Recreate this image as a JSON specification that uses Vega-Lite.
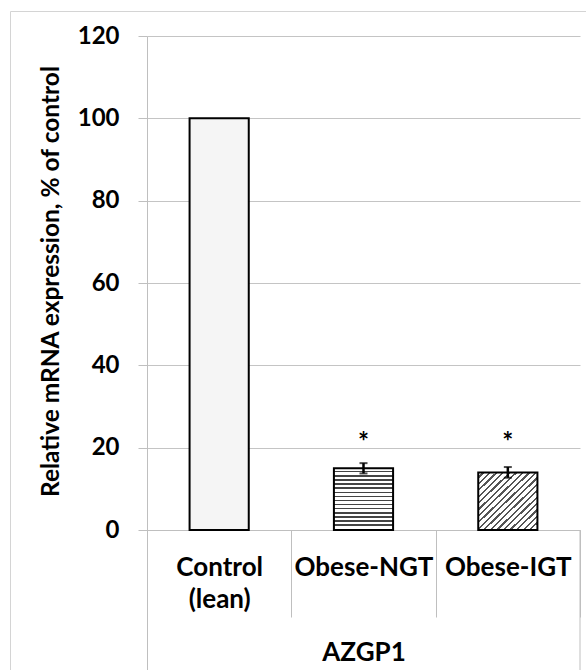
{
  "$schema": "https://vega.github.io/schema/vega-lite/v6.json",
  "width": 433,
  "height": 634,
  "autosize": "none",
  "padding": {"left": 147, "top": 36, "right": 6, "bottom": 0},
  "background": "white",
  "config": {"view": {"stroke": null}, "font": "Lato"},
  "layer": [
    {
      "data": {"values": [
        {"group": "Control (lean)", "value": 100, "err": 0, "sig": ""},
        {"group": "Obese-NGT", "value": 15.0, "err": 1.25, "sig": "*"},
        {"group": "Obese-IGT", "value": 14.0, "err": 1.3, "sig": "*"}
      ]},
      "encoding": {
        "x": {
          "field": "group", "type": "nominal", "sort": null,
          "scale": {"paddingInner": 0, "paddingOuter": 0},
          "axis": {
            "orient": "bottom", "offset": -140,
            "domainColor": "#bfbfbf", "domainWidth": 1,
            "ticks": true, "tickBand": "extent", "tickSize": 87, "tickColor": "#bfbfbf", "tickWidth": 1,
            "labelAngle": 0, "labelFont": "Lato", "labelFontSize": 26, "labelFontWeight": "bold", "labelColor": "black",
            "labelBaseline": "alphabetic", "labelPadding": -42, "labelLineHeight": 32,
            "labelExpr": "datum.value === 'Control (lean)' ? ['Control', '(lean)'] : datum.label",
            "title": "AZGP1", "titleFont": "Lato", "titleFontSize": 26, "titleFontWeight": "bold", "titleColor": "black",
            "titleBaseline": "alphabetic", "titleY": 130
          }
        }
      },
      "layer": [
        {
          "mark": {"type": "bar", "width": {"band": 0.41}, "stroke": "black", "strokeWidth": 2},
          "encoding": {
            "y": {
              "field": "value", "type": "quantitative",
              "scale": {"domain": [-34, 120], "nice": false},
              "axis": {
                "values": [0, 20, 40, 60, 80, 100, 120],
                "grid": true, "gridColor": "#c4c4c4", "gridWidth": 1,
                "domainColor": "#bfbfbf", "tickColor": "#bfbfbf", "tickSize": 9,
                "labelFont": "Lato", "labelFontSize": 24, "labelFontWeight": "bold", "labelColor": "black", "labelPadding": 19,
                "title": "Relative mRNA expression, % of control",
                "titleFont": "Lato", "titleFontSize": 24.5, "titleFontWeight": "bold", "titleColor": "black",
                "titleBaseline": "alphabetic", "titleX": -89, "titleY": 245
              }
            },
            "fill": {
              "condition": [
                {"test": "datum.group === 'Obese-NGT'", "value": {
                  "gradient": "linear", "x1": 0, "y1": 0, "x2": 0, "y2": 1,
                  "stops": [
                    {"offset": 0, "color": "#ffffff"}, {"offset": 0.0433, "color": "#ffffff"}, {"offset": 0.0433, "color": "#444444"}, {"offset": 0.0667, "color": "#444444"},
                    {"offset": 0.0667, "color": "#ffffff"}, {"offset": 0.11, "color": "#ffffff"}, {"offset": 0.11, "color": "#444444"}, {"offset": 0.1333, "color": "#444444"},
                    {"offset": 0.1333, "color": "#ffffff"}, {"offset": 0.1767, "color": "#ffffff"}, {"offset": 0.1767, "color": "#444444"}, {"offset": 0.2, "color": "#444444"},
                    {"offset": 0.2, "color": "#ffffff"}, {"offset": 0.2433, "color": "#ffffff"}, {"offset": 0.2433, "color": "#444444"}, {"offset": 0.2667, "color": "#444444"},
                    {"offset": 0.2667, "color": "#ffffff"}, {"offset": 0.31, "color": "#ffffff"}, {"offset": 0.31, "color": "#444444"}, {"offset": 0.3333, "color": "#444444"},
                    {"offset": 0.3333, "color": "#ffffff"}, {"offset": 0.3767, "color": "#ffffff"}, {"offset": 0.3767, "color": "#444444"}, {"offset": 0.4, "color": "#444444"},
                    {"offset": 0.4, "color": "#ffffff"}, {"offset": 0.4433, "color": "#ffffff"}, {"offset": 0.4433, "color": "#444444"}, {"offset": 0.4667, "color": "#444444"},
                    {"offset": 0.4667, "color": "#ffffff"}, {"offset": 0.51, "color": "#ffffff"}, {"offset": 0.51, "color": "#444444"}, {"offset": 0.5333, "color": "#444444"},
                    {"offset": 0.5333, "color": "#ffffff"}, {"offset": 0.5767, "color": "#ffffff"}, {"offset": 0.5767, "color": "#444444"}, {"offset": 0.6, "color": "#444444"},
                    {"offset": 0.6, "color": "#ffffff"}, {"offset": 0.6433, "color": "#ffffff"}, {"offset": 0.6433, "color": "#444444"}, {"offset": 0.6667, "color": "#444444"},
                    {"offset": 0.6667, "color": "#ffffff"}, {"offset": 0.71, "color": "#ffffff"}, {"offset": 0.71, "color": "#444444"}, {"offset": 0.7333, "color": "#444444"},
                    {"offset": 0.7333, "color": "#ffffff"}, {"offset": 0.7767, "color": "#ffffff"}, {"offset": 0.7767, "color": "#444444"}, {"offset": 0.8, "color": "#444444"},
                    {"offset": 0.8, "color": "#ffffff"}, {"offset": 0.8433, "color": "#ffffff"}, {"offset": 0.8433, "color": "#444444"}, {"offset": 0.8667, "color": "#444444"},
                    {"offset": 0.8667, "color": "#ffffff"}, {"offset": 0.91, "color": "#ffffff"}, {"offset": 0.91, "color": "#444444"}, {"offset": 0.9333, "color": "#444444"},
                    {"offset": 0.9333, "color": "#ffffff"}, {"offset": 0.9767, "color": "#ffffff"}, {"offset": 0.9767, "color": "#444444"}, {"offset": 1, "color": "#444444"}
                  ]}},
                {"test": "datum.group === 'Obese-IGT'", "value": {
                  "gradient": "linear", "x1": 0, "y1": 0, "x2": 1, "y2": 1,
                  "stops": [
                    {"offset": 0, "color": "#ffffff"}, {"offset": 0.0361, "color": "#ffffff"}, {"offset": 0.0361, "color": "#555555"}, {"offset": 0.0556, "color": "#555555"},
                    {"offset": 0.0556, "color": "#ffffff"}, {"offset": 0.0917, "color": "#ffffff"}, {"offset": 0.0917, "color": "#555555"}, {"offset": 0.1111, "color": "#555555"},
                    {"offset": 0.1111, "color": "#ffffff"}, {"offset": 0.1472, "color": "#ffffff"}, {"offset": 0.1472, "color": "#555555"}, {"offset": 0.1667, "color": "#555555"},
                    {"offset": 0.1667, "color": "#ffffff"}, {"offset": 0.2028, "color": "#ffffff"}, {"offset": 0.2028, "color": "#555555"}, {"offset": 0.2222, "color": "#555555"},
                    {"offset": 0.2222, "color": "#ffffff"}, {"offset": 0.2583, "color": "#ffffff"}, {"offset": 0.2583, "color": "#555555"}, {"offset": 0.2778, "color": "#555555"},
                    {"offset": 0.2778, "color": "#ffffff"}, {"offset": 0.3139, "color": "#ffffff"}, {"offset": 0.3139, "color": "#555555"}, {"offset": 0.3333, "color": "#555555"},
                    {"offset": 0.3333, "color": "#ffffff"}, {"offset": 0.3694, "color": "#ffffff"}, {"offset": 0.3694, "color": "#555555"}, {"offset": 0.3889, "color": "#555555"},
                    {"offset": 0.3889, "color": "#ffffff"}, {"offset": 0.425, "color": "#ffffff"}, {"offset": 0.425, "color": "#555555"}, {"offset": 0.4444, "color": "#555555"},
                    {"offset": 0.4444, "color": "#ffffff"}, {"offset": 0.4806, "color": "#ffffff"}, {"offset": 0.4806, "color": "#555555"}, {"offset": 0.5, "color": "#555555"},
                    {"offset": 0.5, "color": "#ffffff"}, {"offset": 0.5361, "color": "#ffffff"}, {"offset": 0.5361, "color": "#555555"}, {"offset": 0.5556, "color": "#555555"},
                    {"offset": 0.5556, "color": "#ffffff"}, {"offset": 0.5917, "color": "#ffffff"}, {"offset": 0.5917, "color": "#555555"}, {"offset": 0.6111, "color": "#555555"},
                    {"offset": 0.6111, "color": "#ffffff"}, {"offset": 0.6472, "color": "#ffffff"}, {"offset": 0.6472, "color": "#555555"}, {"offset": 0.6667, "color": "#555555"},
                    {"offset": 0.6667, "color": "#ffffff"}, {"offset": 0.7028, "color": "#ffffff"}, {"offset": 0.7028, "color": "#555555"}, {"offset": 0.7222, "color": "#555555"},
                    {"offset": 0.7222, "color": "#ffffff"}, {"offset": 0.7583, "color": "#ffffff"}, {"offset": 0.7583, "color": "#555555"}, {"offset": 0.7778, "color": "#555555"},
                    {"offset": 0.7778, "color": "#ffffff"}, {"offset": 0.8139, "color": "#ffffff"}, {"offset": 0.8139, "color": "#555555"}, {"offset": 0.8333, "color": "#555555"},
                    {"offset": 0.8333, "color": "#ffffff"}, {"offset": 0.8694, "color": "#ffffff"}, {"offset": 0.8694, "color": "#555555"}, {"offset": 0.8889, "color": "#555555"},
                    {"offset": 0.8889, "color": "#ffffff"}, {"offset": 0.925, "color": "#ffffff"}, {"offset": 0.925, "color": "#555555"}, {"offset": 0.9444, "color": "#555555"},
                    {"offset": 0.9444, "color": "#ffffff"}, {"offset": 0.9806, "color": "#ffffff"}, {"offset": 0.9806, "color": "#555555"}, {"offset": 1, "color": "#555555"}
                  ]}}
              ],
              "value": "#f5f5f5"
            }
          }
        },
        {
          "transform": [{"filter": "datum.err > 0"}],
          "mark": {"type": "errorbar", "ticks": {"size": 8, "thickness": 2, "color": "black"}, "rule": {"strokeWidth": 2.5, "color": "black"}},
          "encoding": {
            "y": {"field": "value", "type": "quantitative", "title": "Relative mRNA expression, % of control"},
            "yError": {"field": "err"}
          }
        },
        {
          "transform": [{"filter": "datum.sig !== ''"}],
          "mark": {"type": "text", "font": "Lato", "fontSize": 26, "fontWeight": "bold", "color": "black", "baseline": "middle", "dy": 6},
          "encoding": {
            "y": {"datum": 22.6, "type": "quantitative"},
            "text": {"field": "sig"}
          }
        },
        {
          "data": {"values": [{"k": 1}]},
          "mark": {"type": "rule", "color": "#bfbfbf", "strokeWidth": 1},
          "encoding": {
            "x": {"datum": "Obese-IGT", "type": "nominal", "bandPosition": 1},
            "y": {"datum": 0, "type": "quantitative"},
            "y2": {"datum": -34}
          }
        }
      ]
    },
    {
      "data": {"values": [{"k": 0}]},
      "mark": {"type": "point", "opacity": 0},
      "encoding": {
        "x": {"datum": 0, "type": "quantitative", "scale": {"domain": [0, 1], "range": [-137, 439]},
          "axis": {"orient": "top", "offset": 25, "domain": true, "domainColor": "#d4d4d4", "ticks": false, "labels": false, "grid": false, "title": null}},
        "y": {"datum": 0, "type": "quantitative", "scale": {"domain": [0, 1], "range": [634, -25]},
          "axis": {"orient": "left", "offset": 137, "domain": true, "domainColor": "#d4d4d4", "ticks": false, "labels": false, "grid": false, "title": null}}
      }
    }
  ],
  "resolve": {"scale": {"x": "independent", "y": "independent"}}
}
